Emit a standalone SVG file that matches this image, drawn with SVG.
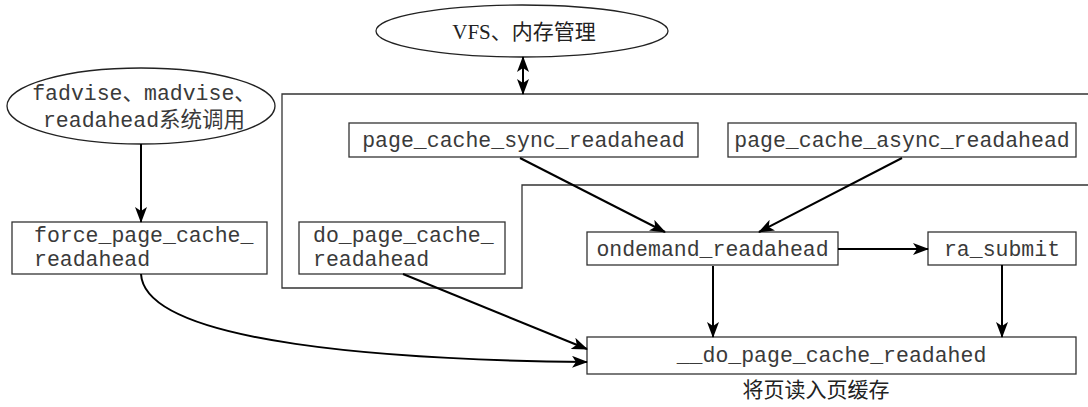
<svg xmlns="http://www.w3.org/2000/svg" width="1088" height="407" viewBox="0 0 1088 407">
<style>
.box{fill:#fff;stroke:#333;stroke-width:1.3}
.ell{fill:#fff;stroke:#222;stroke-width:1.3}
.mono{font-family:"Liberation Mono","Noto Sans CJK SC",monospace;font-size:21.5px;fill:#3a3a3a}
.serif{font-family:"Liberation Serif","Noto Sans CJK SC",serif;font-size:21px;fill:#222}
.ln{fill:none;stroke:#000;stroke-width:2}
</style>
<defs>
<marker id="ah" viewBox="0 0 16 12" refX="15" refY="6" markerWidth="16" markerHeight="12" markerUnits="userSpaceOnUse" orient="auto-start-reverse">
<path d="M0,0 L16,6 L0,12 L4,6 Z" fill="#000"/>
</marker>
</defs>
<rect width="1088" height="407" fill="#fff"/>
<g id="frame">
<path d="M1088,94 H282 V288 H522 V185 H1088" fill="none" stroke="#333" stroke-width="1.3"/>
</g>
<g id="vfs">
<ellipse class="ell" cx="522" cy="31" rx="146" ry="26"/>
<text class="serif" x="524" y="39" text-anchor="middle" font-size="22">VFS、内存管理</text>
</g>
<g id="syscalls">
<ellipse class="ell" cx="141" cy="106" rx="134" ry="38"/>
<text class="mono" x="144" y="100" text-anchor="middle" font-size="21">fadvise、madvise、</text>
<text class="mono" x="144" y="127" text-anchor="middle" font-size="21">readahead系统调用</text>
</g>
<g id="sync">
<rect class="box" x="349" y="123" width="349" height="34"/>
<text class="mono" x="523.5" y="147" text-anchor="middle">page_cache_sync_readahead</text>
</g>
<g id="async">
<rect class="box" x="728" y="123" width="348" height="34"/>
<text class="mono" x="902" y="147" text-anchor="middle">page_cache_async_readahead</text>
</g>
<g id="force">
<rect class="box" x="12" y="222" width="255" height="52"/>
<text class="mono" x="34" y="242">force_page_cache_</text>
<text class="mono" x="34" y="266">readahead</text>
</g>
<g id="dopage">
<rect class="box" x="299" y="222" width="206" height="52"/>
<text class="mono" x="313" y="242">do_page_cache_</text>
<text class="mono" x="313" y="266">readahead</text>
</g>
<g id="ondemand">
<rect class="box" x="587" y="232" width="251" height="33"/>
<text class="mono" x="712.5" y="256" text-anchor="middle">ondemand_readahead</text>
</g>
<g id="rasubmit">
<rect class="box" x="928" y="232" width="148" height="33"/>
<text class="mono" x="1002" y="256" text-anchor="middle">ra_submit</text>
</g>
<g id="dodo">
<rect class="box" x="587" y="337" width="489" height="37"/>
<text class="mono" x="831.5" y="362" text-anchor="middle">__do_page_cache_readahed</text>
</g>
<text class="serif" x="816" y="397" text-anchor="middle" font-size="22">将页读入页缓存</text>
<g id="connectors">
<line class="ln" x1="523" y1="57" x2="523" y2="94" marker-start="url(#ah)" marker-end="url(#ah)"/>
<line class="ln" x1="141" y1="144" x2="141" y2="222" marker-end="url(#ah)"/>
<line class="ln" x1="520" y1="158" x2="665" y2="232" marker-end="url(#ah)"/>
<line class="ln" x1="902" y1="158" x2="759" y2="232" marker-end="url(#ah)"/>
<line class="ln" x1="838" y1="249" x2="928" y2="249" marker-end="url(#ah)"/>
<line class="ln" x1="713" y1="266" x2="713" y2="337" marker-end="url(#ah)"/>
<line class="ln" x1="1002" y1="265" x2="1002" y2="337" marker-end="url(#ah)"/>
<line class="ln" x1="403" y1="274" x2="587" y2="349" marker-end="url(#ah)"/>
<path class="ln" d="M141,274 C145,345 400,360 587,362" marker-end="url(#ah)"/>
</g>
</svg>
